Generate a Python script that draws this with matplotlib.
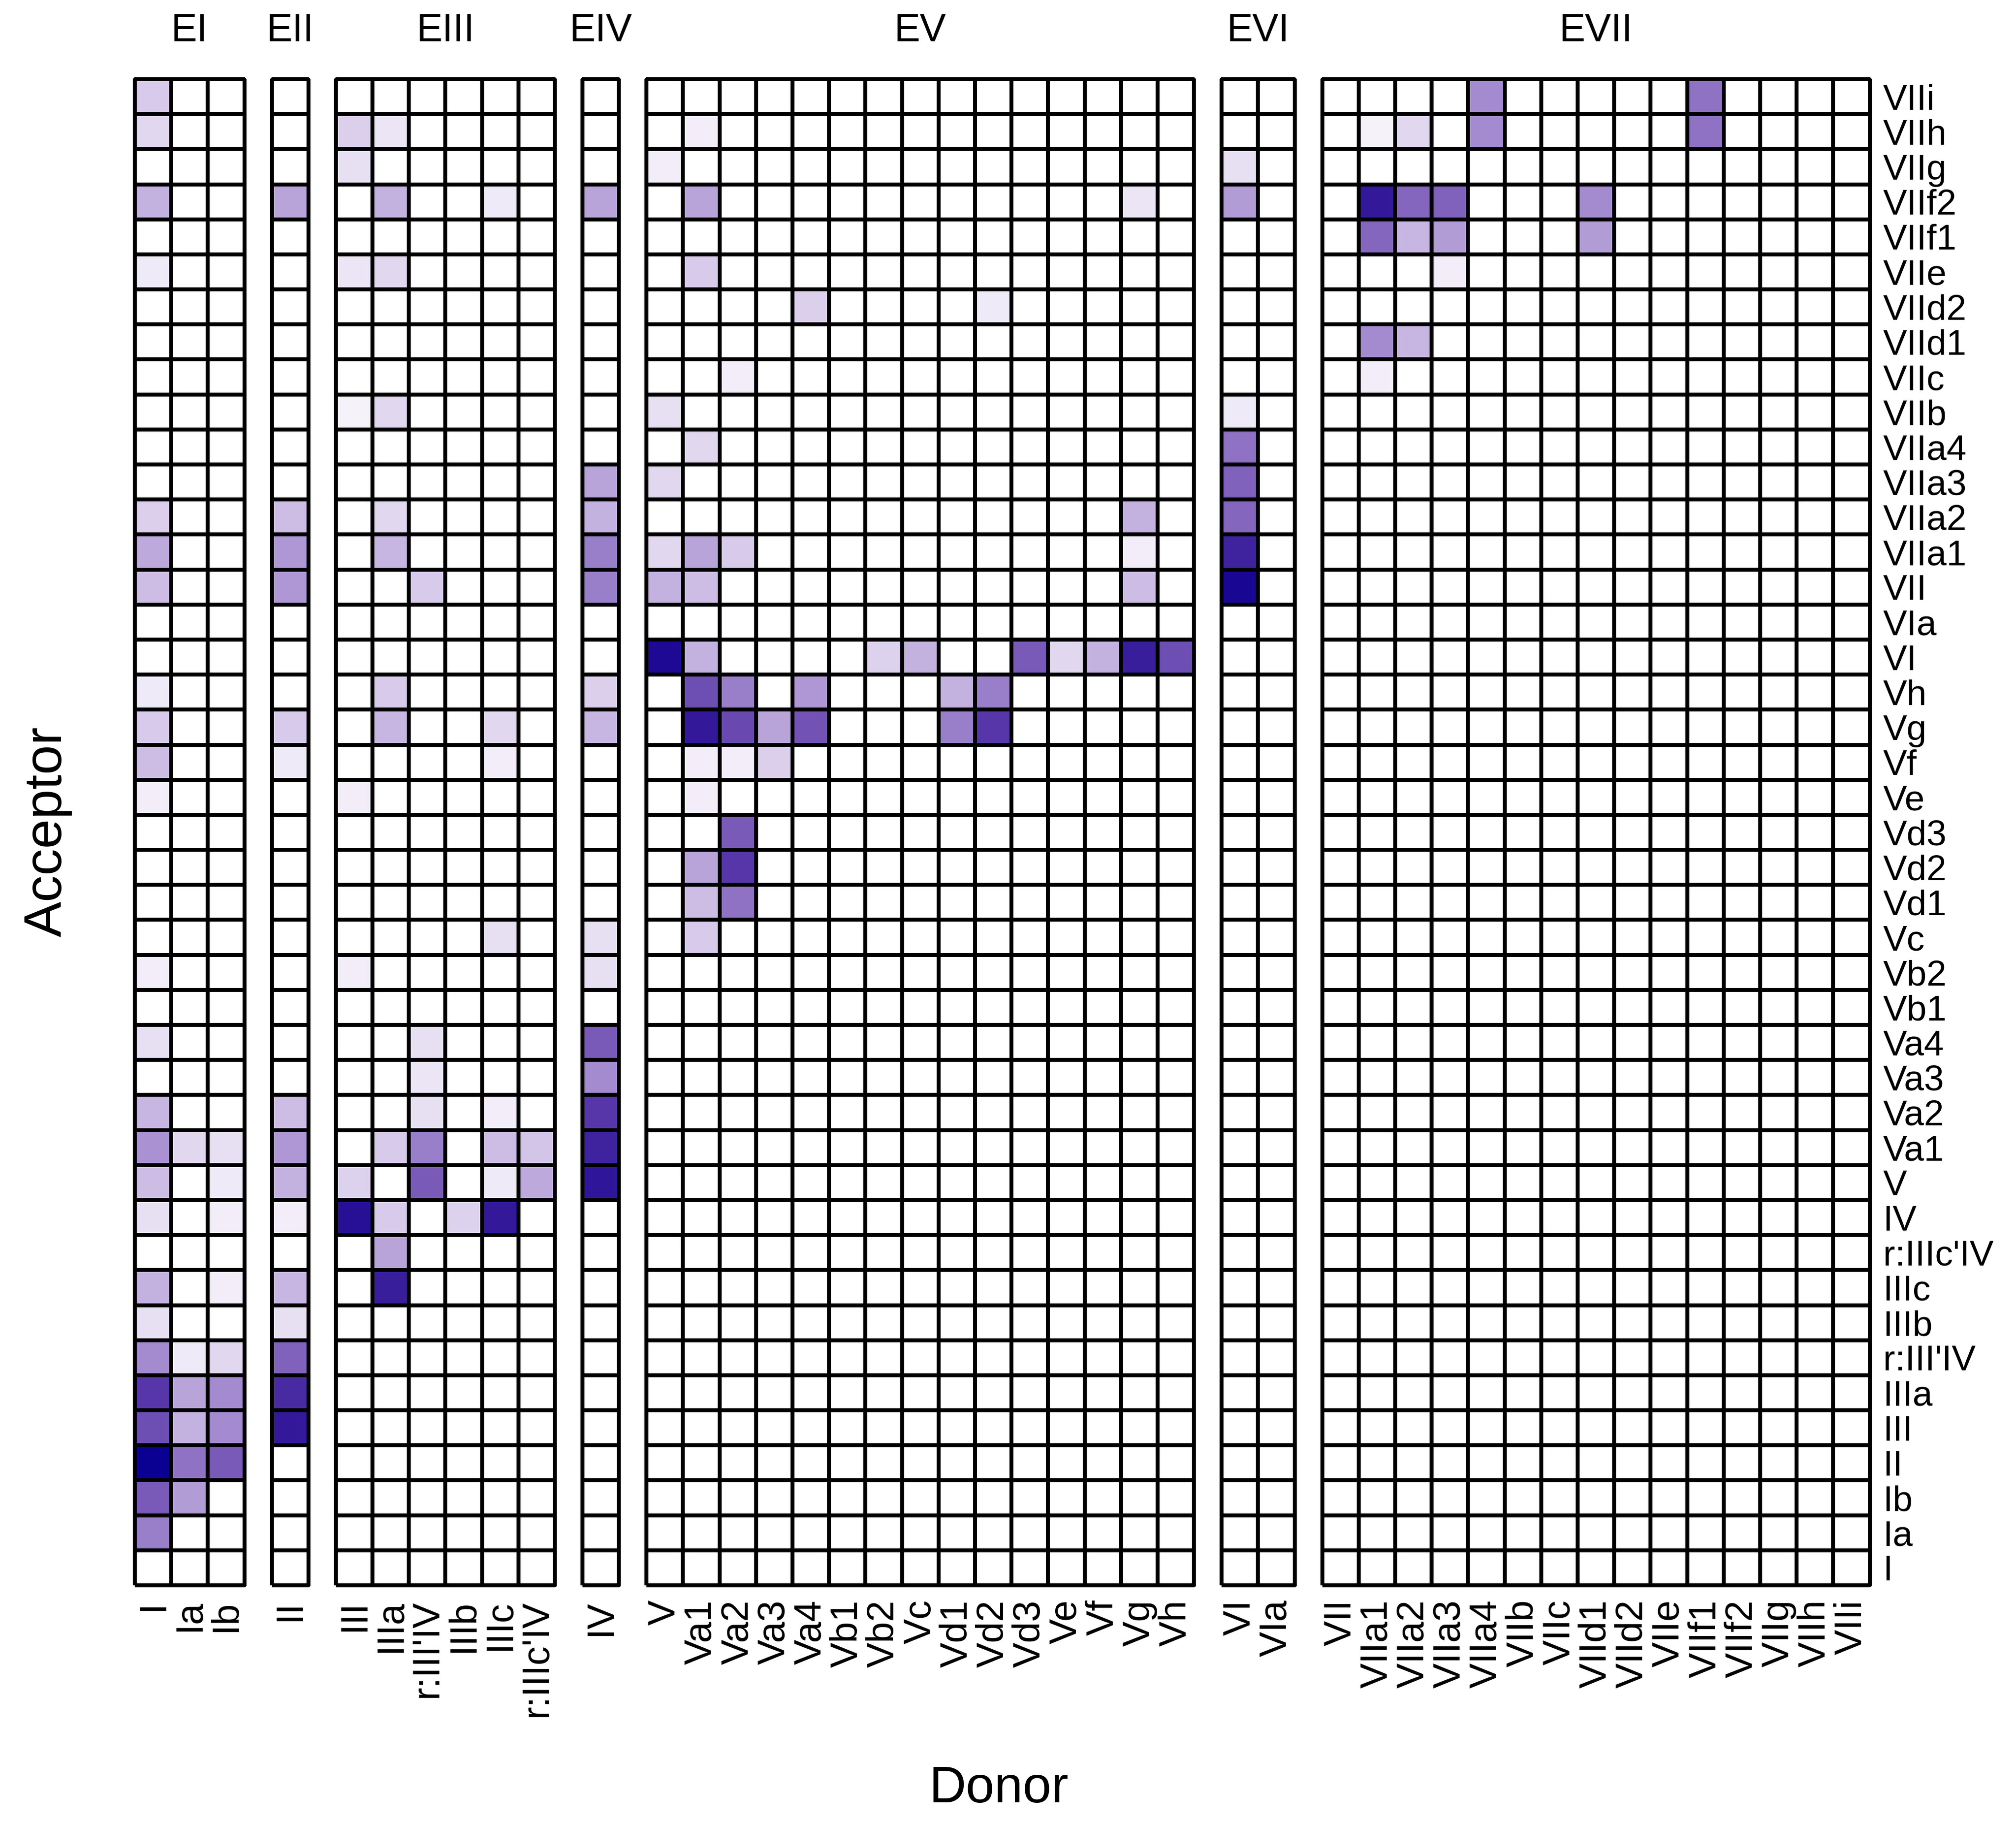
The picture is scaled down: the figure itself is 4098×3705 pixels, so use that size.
import numpy as np
import matplotlib
matplotlib.use("Agg")
import matplotlib.pyplot as plt
from matplotlib.colors import ListedColormap

# ---------------------------------------------------------------- data
acceptors = ["I", "Ia", "Ib", "II", "III", "IIIa", "r:III'IV", "IIIb", "IIIc",
             "r:IIIc'IV", "IV", "V", "Va1", "Va2", "Va3", "Va4", "Vb1", "Vb2",
             "Vc", "Vd1", "Vd2", "Vd3", "Ve", "Vf", "Vg", "Vh", "VI", "VIa",
             "VII", "VIIa1", "VIIa2", "VIIa3", "VIIa4", "VIIb", "VIIc", "VIId1",
             "VIId2", "VIIe", "VIIf1", "VIIf2", "VIIg", "VIIh", "VIIi"]

panels = ["EI", "EII", "EIII", "EIV", "EV", "EVI", "EVII"]

donors_EI = ["I", "Ia", "Ib"]
donors_EII = ["II"]
donors_EIII = ["III", "IIIa", "r:III'IV", "IIIb", "IIIc", "r:IIIc'IV"]
donors_EIV = ["IV"]
donors_EV = ["V", "Va1", "Va2", "Va3", "Va4", "Vb1", "Vb2", "Vc", "Vd1", "Vd2",
             "Vd3", "Ve", "Vf", "Vg", "Vh"]
donors_EVI = ["VI", "VIa"]
donors_EVII = ["VII", "VIIa1", "VIIa2", "VIIa3", "VIIa4", "VIIb", "VIIc", "VIId1",
               "VIId2", "VIIe", "VIIf1", "VIIf2", "VIIg", "VIIh", "VIIi"]

# (donor, acceptor, value) -- cells not listed are 0
cells_EI = [
    ("I", "VIIi", .20), ("I", "VIIh", .15), ("I", "VIIf2", .30), ("I", "VIIe", .08),
    ("I", "VIIa2", .18), ("I", "VIIa1", .33), ("I", "VII", .25), ("I", "Vh", .08),
    ("I", "Vg", .20), ("I", "Vf", .25), ("I", "Ve", .07), ("I", "Vb2", .07),
    ("I", "Va4", .12), ("I", "Va2", .28), ("I", "Va1", .42), ("I", "V", .25),
    ("I", "IV", .12), ("I", "IIIc", .30), ("I", "IIIb", .12), ("I", "r:III'IV", .45),
    ("I", "IIIa", .80), ("I", "III", .70), ("I", "II", 1.0), ("I", "Ib", .65),
    ("I", "Ia", .50),
    ("Ia", "Va1", .15), ("Ia", "r:III'IV", .08), ("Ia", "IIIa", .35), ("Ia", "III", .30),
    ("Ia", "II", .55), ("Ia", "Ib", .38),
    ("Ib", "Va1", .12), ("Ib", "V", .08), ("Ib", "IV", .07), ("Ib", "IIIc", .07),
    ("Ib", "r:III'IV", .15), ("Ib", "IIIa", .45), ("Ib", "III", .45), ("Ib", "II", .65),
]
cells_EII = [
    ("II", "VIIf2", .35), ("II", "VIIa2", .25), ("II", "VIIa1", .40), ("II", "VII", .40),
    ("II", "Vg", .20), ("II", "Vf", .08), ("II", "Va2", .25), ("II", "Va1", .40),
    ("II", "V", .30), ("II", "IV", .07), ("II", "IIIc", .28), ("II", "IIIb", .12),
    ("II", "r:III'IV", .62), ("II", "IIIa", .85), ("II", "III", .92),
]
cells_EIII = [
    ("III", "VIIh", .18), ("III", "VIIg", .12), ("III", "VIIe", .10), ("III", "VIIb", .05),
    ("III", "Ve", .07), ("III", "Vb2", .07), ("III", "V", .17), ("III", "IV", .95),
    ("IIIa", "VIIh", .10), ("IIIa", "VIIf2", .30), ("IIIa", "VIIe", .15), ("IIIa", "VIIb", .15),
    ("IIIa", "VIIa2", .15), ("IIIa", "VIIa1", .28), ("IIIa", "Vh", .20), ("IIIa", "Vg", .28),
    ("IIIa", "Va1", .20), ("IIIa", "IV", .20), ("IIIa", "r:IIIc'IV", .35), ("IIIa", "IIIc", .90),
    ("r:III'IV", "VII", .20), ("r:III'IV", "Va4", .12), ("r:III'IV", "Va3", .10),
    ("r:III'IV", "Va2", .12), ("r:III'IV", "Va1", .50), ("r:III'IV", "V", .65),
    ("IIIb", "IV", .17),
    ("IIIc", "VIIf2", .08), ("IIIc", "Vg", .15), ("IIIc", "Vf", .07), ("IIIc", "Vc", .12),
    ("IIIc", "Va2", .07), ("IIIc", "Va1", .25), ("IIIc", "V", .08), ("IIIc", "IV", .92),
    ("r:IIIc'IV", "Va1", .22), ("r:IIIc'IV", "V", .33),
]
cells_EIV = [
    ("IV", "VIIf2", .35), ("IV", "VIIa3", .35), ("IV", "VIIa2", .30), ("IV", "VIIa1", .50),
    ("IV", "VII", .50), ("IV", "Vh", .18), ("IV", "Vg", .28), ("IV", "Vc", .12),
    ("IV", "Vb2", .12), ("IV", "Va4", .65), ("IV", "Va3", .45), ("IV", "Va2", .80),
    ("IV", "Va1", .88), ("IV", "V", .93),
]
cells_EV = [
    ("V", "VIIg", .07), ("V", "VIIb", .12), ("V", "VIIa3", .15), ("V", "VIIa1", .15),
    ("V", "VII", .30), ("V", "VI", .97),
    ("Va1", "VIIh", .07), ("Va1", "VIIf2", .35), ("Va1", "VIIe", .20), ("Va1", "VIIa4", .15),
    ("Va1", "VIIa1", .35), ("Va1", "VII", .25), ("Va1", "VI", .30), ("Va1", "Vh", .70),
    ("Va1", "Vg", .92), ("Va1", "Vf", .07), ("Va1", "Ve", .07), ("Va1", "Vd2", .35),
    ("Va1", "Vd1", .25), ("Va1", "Vc", .20),
    ("Va2", "VIIc", .07), ("Va2", "VIIa1", .20), ("Va2", "Vh", .50), ("Va2", "Vg", .72),
    ("Va2", "Vf", .07), ("Va2", "Vd3", .65), ("Va2", "Vd2", .80), ("Va2", "Vd1", .55),
    ("Va3", "Vg", .35), ("Va3", "Vf", .18),
    ("Va4", "VIId2", .18), ("Va4", "Vh", .40), ("Va4", "Vg", .68),
    ("Vb2", "VI", .17), ("Vc", "VI", .30),
    ("Vd1", "Vh", .30), ("Vd1", "Vg", .50),
    ("Vd2", "VIId2", .08), ("Vd2", "Vh", .50), ("Vd2", "Vg", .80),
    ("Vd3", "VI", .65), ("Ve", "VI", .15), ("Vf", "VI", .30),
    ("Vg", "VIIf2", .10), ("Vg", "VIIa2", .30), ("Vg", "VIIa1", .07), ("Vg", "VII", .25),
    ("Vg", "VI", .90), ("Vh", "VI", .70),
]
cells_EVI = [
    ("VI", "VIIg", .12), ("VI", "VIIf2", .38), ("VI", "VIIb", .08), ("VI", "VIIa4", .55),
    ("VI", "VIIa3", .62), ("VI", "VIIa2", .60), ("VI", "VIIa1", .88), ("VI", "VII", .98),
]
cells_EVII = [
    ("VIIa1", "VIIh", .05), ("VIIa1", "VIIf2", .92), ("VIIa1", "VIIf1", .60),
    ("VIIa1", "VIId1", .45), ("VIIa1", "VIIc", .07),
    ("VIIa2", "VIIh", .15), ("VIIa2", "VIIf2", .60), ("VIIa2", "VIIf1", .28),
    ("VIIa2", "VIId1", .28),
    ("VIIa3", "VIIf2", .62), ("VIIa3", "VIIf1", .38), ("VIIa3", "VIIe", .07),
    ("VIIa4", "VIIi", .45), ("VIIa4", "VIIh", .45),
    ("VIId1", "VIIf2", .45), ("VIId1", "VIIf1", .38),
    ("VIIf1", "VIIi", .55), ("VIIf1", "VIIh", .55),
]

donor_lists = [donors_EI, donors_EII, donors_EIII, donors_EIV, donors_EV, donors_EVI, donors_EVII]
cell_lists = [cells_EI, cells_EII, cells_EIII, cells_EIV, cells_EV, cells_EVI, cells_EVII]


# ---------------------------------------------------------------- colour scale (Lab, white -> navy)
def srgb_to_lab(c):
    c = np.asarray(c, float)
    lin = np.where(c <= 0.04045, c / 12.92, ((c + 0.055) / 1.055) ** 2.4)
    m = np.array([[0.4124, 0.3576, 0.1805], [0.2126, 0.7152, 0.0722], [0.0193, 0.1192, 0.9505]])
    xyz = lin @ m.T / np.array([0.95047, 1.0, 1.08883])
    f = np.where(xyz > 0.008856, np.cbrt(xyz), 7.787 * xyz + 16 / 116)
    return np.stack([116 * f[..., 1] - 16, 500 * (f[..., 0] - f[..., 1]), 200 * (f[..., 1] - f[..., 2])], -1)


def lab_to_srgb(lab):
    fy = (lab[..., 0] + 16) / 116
    fx = fy + lab[..., 1] / 500
    fz = fy - lab[..., 2] / 200
    f = np.stack([fx, fy, fz], -1)
    xyz = np.where(f > 0.206893, f ** 3, (f - 16 / 116) / 7.787) * np.array([0.95047, 1.0, 1.08883])
    m = np.array([[3.2406, -1.5372, -0.4986], [-0.9689, 1.8758, 0.0415], [0.0557, -0.2040, 1.0570]])
    lin = np.clip(xyz @ m.T, 0, 1)
    return np.clip(np.where(lin <= 0.0031308, 12.92 * lin, 1.055 * lin ** (1 / 2.4) - 0.055), 0, 1)


lab_lo = srgb_to_lab([1.0, 1.0, 1.0])
lab_hi = srgb_to_lab([10 / 255, 0 / 255, 145 / 255])
t = np.linspace(0, 1, 256)[:, None]
cmap = ListedColormap(lab_to_srgb(lab_lo + t * (lab_hi - lab_lo)))

# ---------------------------------------------------------------- layout (pixels)
W, H = 4098, 3705
dpi = 300
x0 = 274
cw = 74.2
gap = 56
top_px = 161
bot_px = 3222

plt.rcParams["font.family"] = ["Liberation Sans", "DejaVu Sans"]
fig = plt.figure(figsize=(W / dpi, H / dpi), dpi=dpi)

nrow = len(acceptors)
xpos = x0
for k, (name, donors, cells) in enumerate(zip(panels, donor_lists, cell_lists)):
    ncol = len(donors)
    mat = np.zeros((nrow, ncol))
    for d, a, v in cells:
        mat[acceptors.index(a), donors.index(d)] = v

    ax = fig.add_axes([xpos / W, 1 - bot_px / H, ncol * cw / W, (bot_px - top_px) / H])
    mesh = ax.pcolormesh(np.arange(ncol + 1), np.arange(nrow + 1), mat, cmap=cmap,
                         vmin=0, vmax=1, edgecolors="black", linewidth=1.5)
    mesh.set_clip_on(False)
    ax.set_xlim(0, ncol)
    ax.set_ylim(0, nrow)
    for s in ax.spines.values():
        s.set_visible(False)

    ax.set_xticks(np.arange(ncol) + 0.5)
    ax.set_xticklabels(donors, rotation=90, fontsize=18.5)
    ax.tick_params(axis="x", length=0, pad=7)
    if k == len(panels) - 1:
        ax.yaxis.tick_right()
        ax.set_yticks(np.arange(nrow) + 0.5)
        ax.set_yticklabels(acceptors, fontsize=17.5)
        ax.tick_params(axis="y", length=0, pad=6.5)
    else:
        ax.set_yticks([])

    fig.text((xpos + ncol * cw / 2) / W, 1 - 63 / H, name, ha="center", va="center", fontsize=19)
    xpos += ncol * cw + gap

fig.text(2030 / W, 1 - 3636 / H, "Donor", ha="center", va="center", fontsize=25)
fig.text(97 / W, 1 - 1690 / H, "Acceptor", ha="center", va="center", rotation=90, fontsize=26)

fig.savefig("out.png", dpi=dpi)
